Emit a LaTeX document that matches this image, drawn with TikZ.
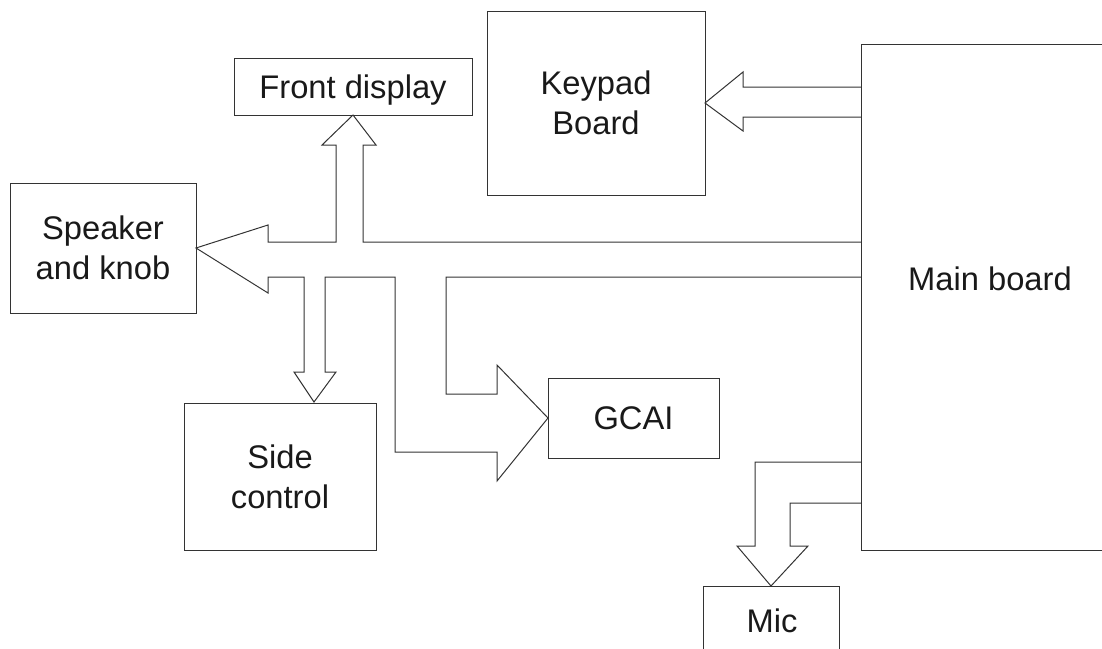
\documentclass[tikz,border=0pt]{standalone}
\usepackage{fontspec}
\setmainfont{Liberation Sans}
\begin{document}
\begin{tikzpicture}[x=1pt,y=-1pt,
  line width=1pt,
  every node/.style={font=\fontsize{32.7}{40}\selectfont, text=black!90},
  box/.style={draw=black!80, rectangle, inner sep=0pt, outer sep=0pt, align=center},
  blockarrow/.style={draw=black!80, line join=miter}]
\useasboundingbox (0,0) rectangle (1102,648);
\clip (0,0) rectangle (1102,648);
% boxes
\node[box, minimum width=238, minimum height=57, text height=23.4pt, text depth=0pt] (fd) at (353,86.5) {Front display};
\node[box, minimum width=218, minimum height=184] (kp) at (596,103) {Keypad\\Board};
\node[box, minimum width=186, minimum height=130] (sk) at (103,248) {Speaker\\and knob};
\node[box, minimum width=192, minimum height=147] (sc) at (280,476.5) {Side\\control};
\node[box, minimum width=171, minimum height=80] (gc) at (633.5,418) {GCAI};
\node[box, anchor=north west, minimum width=300, minimum height=506] (mb) at (861,44) {};
\node (mbl) at (990,279) {Main board};
\node[box, anchor=north, minimum width=136, minimum height=90] (mc) at (771,586) {};
\node (mcl) at (772,621) {Mic};
% named points
\coordinate (m1) at (861,242);
\coordinate (m2) at (861,277);
\coordinate (sctip) at (314,402);
% left connector structure
\draw[blockarrow] (m1) -- (363,242) -- (363,145) -- (376,145) -- (fd.south) -- (322,145) -- (336,145)
  -- (336,242) -- (268,242) -- (268,225) -- (sk.east) -- (268,293) -- (268,277) -- (304,277)
  -- (304,372) -- (294,372) -- (sctip) -- (336,372) -- (325,372) -- (325,277) -- (395,277)
  -- (395,452) -- (497,452) -- (497,481) -- (gc.west) -- (497,365) -- (497,394) -- (446,394)
  -- (446,277) -- (m2);
% keypad arrow
\draw[blockarrow] (861,87) -- (743,87) -- (743,72) -- (kp.east) -- (743,131) -- (743,117) -- (861,117);
% mic arrow
\draw[blockarrow] (861,462) -- (755,462) -- (755,546) -- (737,546) -- (mc.north) -- (808,546) -- (790,546) -- (790,503) -- (861,503);
\end{tikzpicture}
\end{document}
